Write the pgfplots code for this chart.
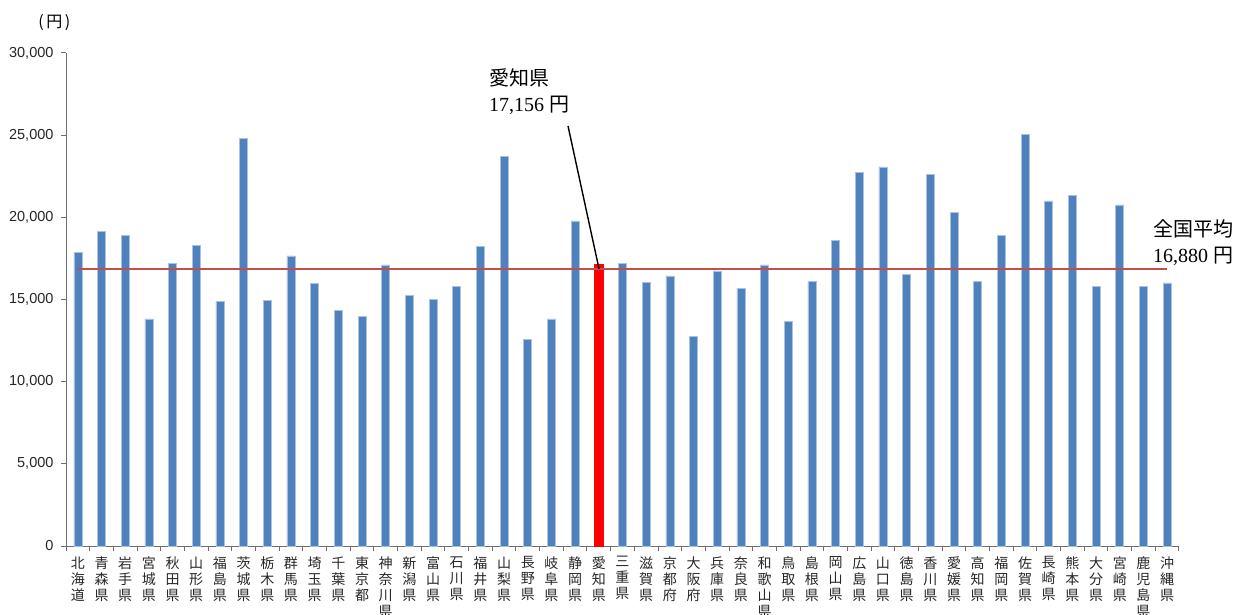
\documentclass[border=0pt]{standalone}
\usepackage{pgfplots}
\pgfplotsset{compat=1.18}
\usepackage{fontspec}
\setmainfont{Liberation Sans}
\newfontfamily\jp{Noto Sans CJK JP}
\newfontfamily\serifnum{Liberation Serif}
\definecolor{barblue}{RGB}{79,129,189}
\definecolor{baredge}{RGB}{170,194,226}
\definecolor{avgline}{RGB}{192,80,77}
\definecolor{axisgray}{RGB}{110,110,110}
\begin{document}
\begin{tikzpicture}[x=1pt,y=1pt]
\begin{axis}[
  at={(66pt,68pt)}, anchor=south west,
  scale only axis, width=1113pt, height=493pt,
  xmin=0.5, xmax=47.5, ymin=0, ymax=30000,
  clip=false,
  axis x line*=bottom, axis y line*=left,
  axis line style={draw=axisgray, line width=1pt, -},
  tick align=outside,
  major tick length=5pt, minor tick length=5pt,
  ytick={0,5000,10000,15000,20000,25000,30000},
  scaled y ticks=false,
  /pgf/number format/1000 sep={,},
  /pgf/number format/assume math mode=true,
  yticklabel style={font=\fontsize{14.5}{15}\selectfont, text=black!85, xshift=-4pt},
  ytick style={draw=axisgray, line width=1pt},
  xtick={1,...,47},
  major x tick style={draw=none},
  minor xtick={0.5,1.5,...,47.5},
  minor x tick style={draw=axisgray, line width=1pt},
  xticklabel style={font=\jp\fontsize{14}{16}\selectfont, align=center, anchor=north, text=black!85, yshift=-2pt},
  xticklabels={{北\\海\\道},{青\\森\\県},{岩\\手\\県},{宮\\城\\県},{秋\\田\\県},{山\\形\\県},{福\\島\\県},{茨\\城\\県},{栃\\木\\県},{群\\馬\\県},{埼\\玉\\県},{千\\葉\\県},{東\\京\\都},{神\\奈\\川\\県},{新\\潟\\県},{富\\山\\県},{石\\川\\県},{福\\井\\県},{山\\梨\\県},{長\\野\\県},{岐\\阜\\県},{静\\岡\\県},{愛\\知\\県},{三\\重\\県},{滋\\賀\\県},{京\\都\\府},{大\\阪\\府},{兵\\庫\\県},{奈\\良\\県},{和\\歌\\山\\県},{鳥\\取\\県},{島\\根\\県},{岡\\山\\県},{広\\島\\県},{山\\口\\県},{徳\\島\\県},{香\\川\\県},{愛\\媛\\県},{高\\知\\県},{福\\岡\\県},{佐\\賀\\県},{長\\崎\\県},{熊\\本\\県},{大\\分\\県},{宮\\崎\\県},{鹿\\児\\島\\県},{沖\\縄\\県}},
]
\addplot[ybar, bar width=8pt, bar shift=0pt, fill=barblue, draw=baredge, line width=0.6pt] coordinates {
(1,17862) (2,19121) (3,18884) (4,13824) (5,17221) (6,18290) (7,14893) (8,24822)
(9,14941) (10,17648) (11,15986) (12,14323) (13,13967) (14,17102) (15,15273)
(16,14988) (17,15819) (18,18242) (19,23729) (20,12589) (21,13824) (22,19786)
(24,17173) (25,16033) (26,16437) (27,12732) (28,16746) (29,15677) (30,17102)
(31,13658) (32,16105) (33,18599) (34,22755) (35,23064) (36,16532) (37,22589)
(38,20309) (39,16105) (40,18907) (41,25059) (42,20998) (43,21354) (44,15819)
(45,20760) (46,15819) (47,16010)
};
\addplot[ybar, bar width=9pt, bar shift=0pt, fill=red, draw=red, line width=0.6pt] coordinates {(23,17156)};
\addplot[avgline, line width=2pt, sharp plot, mark=none] coordinates {(1,16880) (47,16880)};
\draw[black, line width=1.4pt] (axis cs:21.70,25558) -- (axis cs:23.01,16856);
\node[anchor=north west, inner sep=0pt, align=left, font=\fontsize{20}{26}\selectfont] at (axis cs:18.36,29087)
  {{\jp 愛知県}\\{\serifnum 17,156} {\jp 円}};
\node[anchor=north west, inner sep=0pt, align=left, font=\fontsize{20}{26}\selectfont] at (axis cs:46.40,19899)
  {{\jp 全国平均}\\{\serifnum 16,880} {\jp 円}};
\node[anchor=north west, inner sep=0pt, font=\jp\fontsize{16}{17}\selectfont] at (axis cs:-0.68,32360) {(\,円\,)};
\end{axis}
\pgfresetboundingbox
\path[use as bounding box] (0,0) rectangle (1247,614);
\end{tikzpicture}
\end{document}
